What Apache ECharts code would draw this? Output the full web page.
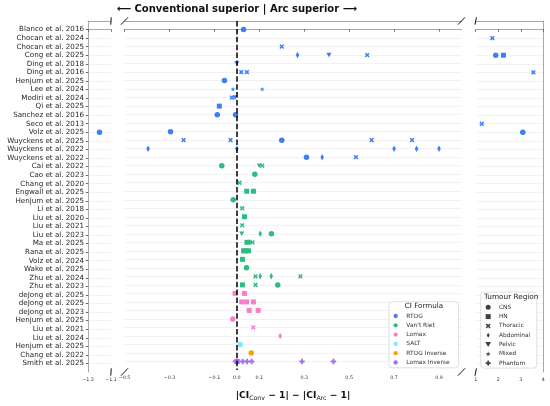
<!DOCTYPE html>
<html><head><meta charset="utf-8">
<script src="https://cdn.jsdelivr.net/npm/echarts@6/dist/echarts.min.js"></script>
<style>html,body{margin:0;padding:0;background:#fff}#c{width:550px;height:406px}</style>
</head><body><div id="c"></div>
<script>
// ---------- DATA ----------
const studies = [
  'Blanco et al. 2016','Chocan et al. 2024','Chocan et al. 2025','Cong et al. 2025','Ding et al. 2018',
  'Ding et al. 2016','Henjum et al. 2025','Lee et al. 2024','Modiri et al. 2024','Qi et al. 2025',
  'Sanchez et al. 2016','Seco et al. 2013','Volz et al. 2025','Wuyckens et al. 2025','Wuyckens et al. 2022',
  'Wuyckens et al. 2022','Cai et al. 2022','Cao et al. 2023','Chang et al. 2020','Engwall et al. 2025',
  'Henjum et al. 2025','Li et al. 2018','Liu et al. 2020','Liu et al. 2021','Liu et al. 2023',
  'Ma et al. 2025','Rana et al. 2025','Volz et al. 2024','Wake et al. 2025','Zhu et al. 2024',
  'Zhu et al. 2023','deJong et al. 2025','deJong et al. 2025','deJong et al. 2023','Henjum et al. 2025',
  'Liu et al. 2021','Liu et al. 2024','Henjum et al. 2025','Chang et al. 2022','Smith et al. 2025'
];
const formulas = ['RTOG', "Van't Riet", 'Lomax', 'SALT', 'RTOG Inverse', 'Lomax Inverse'];
const regions = ['CNS', 'HN', 'Thoracic', 'Abdominal', 'Pelvic', 'Mixed', 'Phantom'];

// [study row, |CIconv-1| - |CIarc-1|, tumour region]
const rtog = [
  [0, 0.03, 'CNS'],
  [1, 1.74, 'Thoracic'],
  [2, 0.20, 'Thoracic'],
  [3, 0.27, 'Abdominal'], [3, 0.41, 'Pelvic'], [3, 0.58, 'Thoracic'], [3, 1.89, 'CNS'], [3, 2.23, 'HN'],
  [4, 0.0, 'Pelvic'],
  [5, 0.02, 'Thoracic'], [5, 0.045, 'Thoracic'], [5, 3.56, 'Thoracic'],
  [6, -0.055, 'CNS'],
  [7, -0.017, 'Mixed'], [7, 0.113, 'Mixed'],
  [8, -0.022, 'Thoracic'], [8, -0.008, 'Pelvic'],
  [9, -0.078, 'HN'],
  [10, -0.087, 'CNS'], [10, -0.006, 'CNS'],
  [11, 1.27, 'Thoracic'],
  [12, -1.20, 'CNS'], [12, -0.295, 'CNS'], [12, 3.09, 'CNS'],
  [13, -0.237, 'Thoracic'], [13, -0.028, 'Thoracic'], [13, 0.20, 'CNS'], [13, 0.60, 'Thoracic'], [13, 0.78, 'Thoracic'],
  [14, -0.395, 'Abdominal'], [14, 0.0, 'Abdominal'], [14, 0.70, 'Abdominal'], [14, 0.80, 'Abdominal'], [14, 0.90, 'Abdominal'],
  [15, 0.31, 'CNS'], [15, 0.38, 'Abdominal'], [15, 0.53, 'Thoracic']
];
const vantRiet = [
  [16, -0.067, 'CNS'], [16, 0.10, 'Pelvic'], [16, 0.113, 'Thoracic'],
  [17, 0.08, 'CNS'],
  [18, 0.012, 'Thoracic'],
  [19, 0.044, 'HN'], [19, 0.074, 'HN'],
  [20, -0.016, 'CNS'],
  [21, 0.024, 'Thoracic'],
  [22, 0.034, 'HN'],
  [23, 0.024, 'Thoracic'],
  [24, 0.022, 'Pelvic'], [24, 0.104, 'Abdominal'], [24, 0.154, 'CNS'],
  [25, 0.045, 'HN'], [25, 0.058, 'Abdominal'], [25, 0.07, 'Thoracic'],
  [26, 0.03, 'HN'], [26, 0.04, 'HN'], [26, 0.052, 'HN'],
  [27, 0.025, 'HN'],
  [28, 0.043, 'CNS'],
  [29, 0.083, 'Thoracic'], [29, 0.104, 'Abdominal'], [29, 0.153, 'Abdominal'], [29, 0.283, 'Thoracic'],
  [30, 0.025, 'HN'], [30, 0.083, 'Thoracic'], [30, 0.182, 'CNS']
];
const lomax = [
  [31, -0.008, 'HN'], [31, 0.034, 'HN'],
  [32, 0.022, 'HN'], [32, 0.044, 'HN'], [32, 0.074, 'HN'],
  [33, 0.055, 'HN'], [33, 0.095, 'HN'],
  [34, -0.018, 'CNS'],
  [35, 0.073, 'Thoracic'],
  [36, 0.193, 'Abdominal']
];
const salt = [[37, 0.015, 'CNS']];
const rtogInverse = [[38, 0.064, 'CNS']];
const lomaxInverse = [
  [39, -0.006, 'Phantom'], [39, 0.002, 'HN'], [39, 0.026, 'Phantom'], [39, 0.046, 'Phantom'],
  [39, 0.066, 'Phantom'], [39, 0.29, 'Phantom'], [39, 0.43, 'Phantom']
];

const ticksLeft = [-1.3, -1.1];
const ticksMid = [-0.5, -0.3, -0.1, 0.0, 0.1, 0.3, 0.5, 0.7, 0.9];
const ticksRight = [1, 2, 3, 4];

// ---------- STYLE ----------
const FONT = 'DejaVu Sans';
const formulaData = [rtog, vantRiet, lomax, salt, rtogInverse, lomaxInverse];
const formulaColors = ['#3d7ff5', '#2cbd82', '#f77ec9', '#80e8f6', '#f5a30a', '#a56cf2'];
const shapes = {
  CNS: 'circle',
  HN: 'path://M0,0 L10,0 L10,10 L0,10 Z',
  Thoracic: 'path://M2.2,0 L5,2.8 L7.8,0 L10,2.2 L7.2,5 L10,7.8 L7.8,10 L5,7.2 L2.2,10 L0,7.8 L2.8,5 L0,2.2 Z',
  Abdominal: 'path://M3,0 L6,5 L3,10 L0,5 Z',
  Pelvic: 'path://M0,0 L10,0 L5,8.66 Z',
  Mixed: 'path://M5,0 L6.18,3.82 L10,3.82 L6.9,6.18 L8.09,10 L5,7.64 L1.91,10 L3.09,6.18 L0,3.82 L3.82,3.82 Z',
  Phantom: 'path://M3.3,0 L6.7,0 L6.7,3.3 L10,3.3 L10,6.7 L6.7,6.7 L6.7,10 L3.3,10 L3.3,6.7 L0,6.7 L0,3.3 L3.3,3.3 Z'
};
const sizes = { CNS: 5.5, HN: 5, Thoracic: 4.8, Abdominal: [3.6, 6.5], Pelvic: [5.2, 4.6], Mixed: 4.8, Phantom: 5.4 };

const segRanges = [[-1.3, -1.1], [-0.5, 1.0], [1, 4]];
const segTicks = [ticksLeft, ticksMid, ticksRight];
const gridBoxes = [{ left: 88, width: 23 }, { left: 124.5, width: 337 }, { left: 475.7, width: 67.6 }];
const frameStyle = { color: '#a8a8a8', width: 1 };
const gridTop = 21, gridBottom = 34;

function segOf(v) { return v < -1.0 ? 0 : (v > 1.0 ? 2 : 1); }
function fmtTick(seg) {
  return function (v) {
    let s = seg === 2 ? String(Math.round(v)) : v.toFixed(1);
    if (s === '-0.0') s = '0.0';
    return s.replace('-', '\u2212');
  };
}

const grids = gridBoxes.map(g => ({ left: g.left, width: g.width, top: gridTop, bottom: gridBottom }));

const xAxes = [];
for (let i = 0; i < 3; i++) {
  xAxes.push({
    type: 'value', gridIndex: i, position: 'bottom', min: segRanges[i][0], max: segRanges[i][1],
    axisLine: { show: true, lineStyle: frameStyle },
    axisTick: { show: true, length: 2.2, customValues: segTicks[i], lineStyle: { color: '#444', width: 0.8 } },
    axisLabel: { customValues: segTicks[i], formatter: fmtTick(i), fontSize: 4.8, color: '#333', fontFamily: FONT, margin: 5 },
    splitLine: { show: false },
    name: i === 1 ? '{b||CI}{s|Conv}{b| \u2212 1| \u2212 |CI}{s|Arc}{b| \u2212 1|}' : '',
    nameLocation: 'middle', nameGap: 20,
    nameTextStyle: {
      rich: {
        b: { fontSize: 9.2, fontWeight: 'bold', fontFamily: FONT, color: '#111', verticalAlign: 'middle', lineHeight: 12 },
        s: { fontSize: 6.2, fontFamily: FONT, color: '#111', verticalAlign: 'middle', lineHeight: 8, padding: [4, 0, 0, 0] }
      }
    }
  });
}
for (let i = 0; i < 3; i++) {
  xAxes.push({
    type: 'value', gridIndex: i, position: 'top', min: segRanges[i][0], max: segRanges[i][1],
    axisLine: { show: true, lineStyle: frameStyle },
    axisTick: { show: false }, axisLabel: { show: false }, splitLine: { show: false }
  });
}
const rowValues = studies.map((_, i) => i);
const yAxes = [0, 1, 2].map(i => ({
  type: 'value', gridIndex: i, inverse: true, min: -1, max: studies.length, interval: 1,
  position: i === 2 ? 'right' : 'left',
  axisLine: { show: i !== 1, lineStyle: frameStyle },
  axisTick: { show: i === 0, length: 2.2, customValues: rowValues, lineStyle: { color: '#444', width: 0.8 } },
  axisLabel: {
    show: i === 0, customValues: rowValues, formatter: v => studies[v] || '',
    fontSize: 7.15, color: '#262626', fontFamily: FONT, margin: 4
  },
  splitLine: { show: true, lineStyle: { color: '#ececec', width: 0.7 } }
}));

const series = [];
formulas.forEach((f, k) => {
  for (let seg = 0; seg < 3; seg++) {
    const pts = formulaData[k].filter(d => segOf(d[1]) === seg).map(d => ({
      value: [d[1], d[0]], symbol: shapes[d[2]], symbolSize: sizes[d[2]]
    }));
    series.push({
      type: 'scatter', name: f, xAxisIndex: seg, yAxisIndex: seg,
      itemStyle: { color: formulaColors[k], opacity: 1 }, data: pts, z: 2
    });
  }
});
regions.forEach(r => {
  series.push({ type: 'scatter', name: r, xAxisIndex: 1, yAxisIndex: 1, data: [], symbol: shapes[r], itemStyle: { color: '#111' } });
});
series.push({
  type: 'scatter', name: 'zero', xAxisIndex: 1, yAxisIndex: 1, data: [], z: 3,
  markLine: {
    silent: true, symbol: 'none', label: { show: false }, animation: false,
    lineStyle: { color: '#000', type: [5.5, 2.4], width: 1.5 },
    data: [{ xAxis: 0 }]
  }
});

const legendCommon = {
  orient: 'vertical', selectedMode: false, itemWidth: 11.4, itemGap: 2.3,
  backgroundColor: 'rgba(255,255,255,0.85)', borderColor: '#d8d8d8', borderWidth: 0.8, borderRadius: 3,
  textStyle: { fontSize: 5.9, color: '#333', fontFamily: FONT, lineHeight: 7 }
};

const chart = echarts.init(document.getElementById('c'));
chart.setOption({
  animation: false,
  backgroundColor: '#fff',
  grid: grids,
  xAxis: xAxes,
  yAxis: yAxes,
  legend: [
    Object.assign({}, legendCommon, {
      data: formulas.map(n => ({ name: n, icon: 'circle' })),
      left: 389, top: 301.7, itemHeight: 4.3, padding: [10.8, 9, 1.8, 4.5]
    }),
    Object.assign({}, legendCommon, {
      data: regions.map(n => ({ name: n, icon: shapes[n] })),
      left: 480.7, top: 292, itemHeight: 5, padding: [11.8, 6.5, 1.5, 4.6]
    })
  ],
  series: series
});

// ---------- decorations computed from axes ----------
function px(xi, v) { return chart.convertToPixel({ xAxisIndex: xi }, v); }
function py(yi, v) { return chart.convertToPixel({ yAxisIndex: yi }, v); }
const yTop = py(0, -1), yBot = py(0, studies.length);
const dFrac = 0.0105, hpx = (yBot - yTop) * dFrac;
const breakEdges = [
  { x: px(0, segRanges[0][1]), w: gridBoxes[0].width },
  { x: px(1, segRanges[1][0]), w: gridBoxes[1].width },
  { x: px(1, segRanges[1][1]), w: gridBoxes[1].width },
  { x: px(2, segRanges[2][0]), w: gridBoxes[2].width }
];
const graphics = [];
breakEdges.forEach(e => {
  const dx = e.w * dFrac;
  [yTop, yBot].forEach(y => {
    graphics.push({
      type: 'line', z: 50,
      shape: { x1: e.x - dx, y1: y + hpx, x2: e.x + dx, y2: y - hpx },
      style: { stroke: '#111', lineWidth: 1 }
    });
  });
});
graphics.push({
  type: 'text', z: 50, x: px(1, 0), y: 9.5,
  style: {
    text: '\u27F5 Conventional superior | Arc superior \u27F6', fontSize: 10, fontWeight: 'bold',
    fontFamily: FONT, fill: '#111', align: 'center', verticalAlign: 'middle'
  }
});
graphics.push({
  type: 'text', z: 50, x: 424, y: 306.5,
  style: { text: 'CI Formula', fontSize: 7.2, fontFamily: FONT, fill: '#222', align: 'center', verticalAlign: 'middle' }
});
graphics.push({
  type: 'text', z: 50, x: 511.2, y: 297.5,
  style: { text: 'Tumour Region', fontSize: 7.3, fontFamily: FONT, fill: '#222', align: 'center', verticalAlign: 'middle' }
});
chart.setOption({ graphic: graphics });
</script>
</body></html>
